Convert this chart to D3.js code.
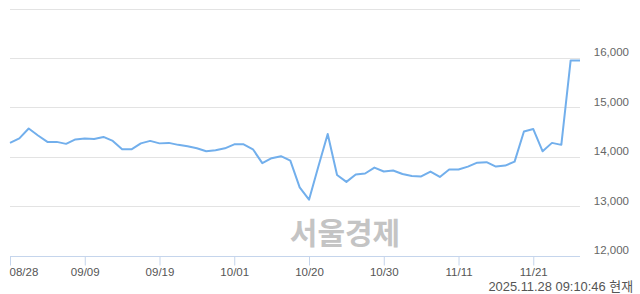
<!DOCTYPE html>
<html lang="ko">
<head>
    <meta charset="utf-8">
    <title>주가 차트</title>
    <style>
        body { margin: 0; background: #fff; }
        text { font-family: "Liberation Sans", Arial, "Noto Sans CJK KR", sans-serif; }
        .grid line { stroke: #e3e3e3; stroke-width: 1; }
        .ylab { font-size: 11.5px; fill: #666; }
        .xaxis path, .xaxis line { stroke: #c5d5ec; }
        .xaxis text { font-size: 11.5px; fill: #555; font-family: "Liberation Sans", Arial, sans-serif; }
        .mark { font-family: "Noto Sans CJK KR", sans-serif; font-weight: 700; font-size: 30px; fill: #c4c4c4; }
        .stamp { font-size: 12.9px; fill: #555; }
    </style>
</head>
<body>
    <svg width="640" height="294"></svg>
    <script src="https://d3js.org/d3.v7.min.js"></script>
    <script>
        // trading days shown on the chart
        const dates = ['08/28', '08/29', '09/01', '09/02', '09/03', '09/04', '09/05', '09/08', '09/09', '09/10',
            '09/11', '09/12', '09/15', '09/16', '09/17', '09/18', '09/19', '09/22', '09/23', '09/24',
            '09/25', '09/26', '09/29', '09/30', '10/01', '10/02', '10/10', '10/13', '10/14', '10/15',
            '10/16', '10/17', '10/20', '10/21', '10/22', '10/23', '10/24', '10/27', '10/28', '10/29',
            '10/30', '10/31', '11/03', '11/04', '11/05', '11/06', '11/07', '11/10', '11/11', '11/12',
            '11/13', '11/14', '11/17', '11/18', '11/19', '11/20', '11/21', '11/24', '11/25', '11/26',
            '11/27', '11/28'];

        const prices = [14300, 14390, 14590, 14450, 14320, 14320, 14280, 14370, 14390, 14380,
            14420, 14340, 14170, 14170, 14290, 14340, 14290, 14300, 14260, 14230,
            14190, 14130, 14150, 14190, 14270, 14270, 14170, 13890, 13990, 14030,
            13940, 13400, 13150, 13820, 14480, 13650, 13510, 13660, 13680, 13800,
            13720, 13740, 13670, 13630, 13620, 13720, 13610, 13760, 13760, 13820,
            13900, 13910, 13820, 13840, 13920, 14530, 14580, 14130, 14300, 14260,
            15970, 15970];

        const xTicks = ['08/28', '09/09', '09/19', '10/01', '10/20', '10/30', '11/11', '11/21'];
        const gridValues = [13000, 14000, 15000, 16000, 17000];
        const yLabels = [12000, 13000, 14000, 15000, 16000];
        const stampText = '2025.11.28 09:10:46 현재';
        const watermark = '서울경제';

        const svg = d3.select('svg');
        const plotLeft = 10, plotRight = 580, plotTop = 9.5, plotBottom = 256.5;

        const x = d3.scalePoint().domain(dates).range([plotLeft, plotRight]);
        const y = d3.scaleLinear().domain([12000, 17000]).range([plotBottom, plotTop]);
        const fmt = d3.format(',');

        // horizontal grid
        svg.append('g').attr('class', 'grid')
            .selectAll('line')
            .data(gridValues)
            .enter().append('line')
            .attr('x1', plotLeft).attr('x2', plotRight)
            .attr('y1', d => Math.round(y(d)) - 0.5)
            .attr('y2', d => Math.round(y(d)) - 0.5);

        svg.append('g')
            .selectAll('text')
            .data(yLabels)
            .enter().append('text')
            .attr('class', 'ylab')
            .attr('x', 629)
            .attr('y', d => y(d) - 2.5)
            .attr('text-anchor', 'end')
            .text(d => fmt(d));

        // watermark
        svg.append('text')
            .attr('class', 'mark')
            .attr('x', 345)
            .attr('y', 244)
            .attr('text-anchor', 'middle')
            .text(watermark);

        // x axis
        const xAxis = svg.append('g')
            .attr('class', 'xaxis')
            .attr('transform', `translate(0, ${Math.round(plotBottom) - 0.5})`)
            .call(d3.axisBottom(x).tickValues(xTicks).tickSize(9).tickSizeOuter(0));
        xAxis.select('.domain').attr('d', `M${plotLeft},0H${plotRight}`);
        xAxis.selectAll('.tick text')
            .attr('y', 11)
            .attr('dy', '0.71em')
            .attr('text-anchor', (d, i) => i === 0 ? 'start' : 'middle')
            .attr('dx', (d, i) => i === 0 ? -1 : 0);

        // price line
        const line = d3.line()
            .x((d, i) => x(dates[i]))
            .y(d => y(d));

        svg.append('path')
            .datum(prices)
            .attr('fill', 'none')
            .attr('stroke', '#72afec')
            .attr('stroke-width', 2)
            .attr('stroke-linejoin', 'round')
            .attr('d', line);

        svg.append('text')
            .attr('class', 'stamp')
            .attr('x', 633)
            .attr('y', 291)
            .attr('text-anchor', 'end')
            .text(stampText);
    </script>
</body>
</html>
